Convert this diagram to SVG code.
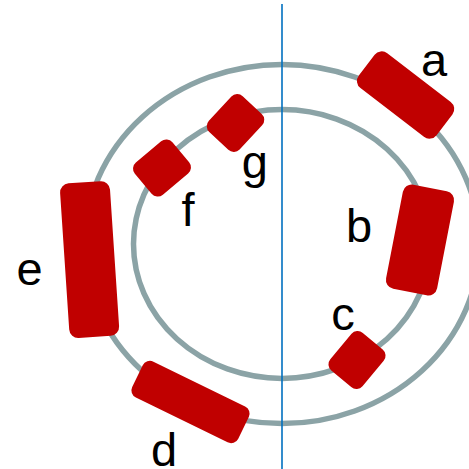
<svg xmlns="http://www.w3.org/2000/svg" width="469" height="469" viewBox="0 0 469 469">
<style>
.ring{fill:none;stroke:#8BA3A6;stroke-width:5.5}
.blk{fill:#C00000}
.lbl{font-family:"Liberation Sans",Arial,sans-serif;font-size:47px;fill:#000;text-anchor:middle}
</style>
<rect width="469" height="469" fill="#fff"/>
<g id="rings">
<ellipse class="ring" cx="282" cy="244" rx="197.5" ry="179.6"/>
<ellipse class="ring" cx="282" cy="244" rx="148.5" ry="134.4"/>
</g>
<g id="connectors">
<line x1="282" y1="4" x2="282" y2="469" stroke="#0070C0" stroke-width="1.6"/>
</g>
<g id="node-a"><rect class="blk" x="-49" y="-22" width="98" height="44" rx="9" transform="translate(405.6 95) rotate(37.5)"/><text class="lbl" x="434" y="76">a</text></g>
<g id="node-b"><rect class="blk" x="-26" y="-53" width="52" height="106" rx="9" transform="translate(420 240) rotate(11)"/><text class="lbl" x="359" y="242">b</text></g>
<g id="node-c"><rect class="blk" x="-21" y="-24.5" width="42" height="49" rx="8" transform="translate(357 360) rotate(40)"/><text class="lbl" x="343" y="330">c</text></g>
<g id="node-d"><rect class="blk" x="-59" y="-20" width="118" height="40" rx="8" transform="translate(190.5 402) rotate(26)"/><text class="lbl" x="164" y="466">d</text></g>
<g id="node-e"><rect class="blk" x="-25" y="-77.5" width="50" height="155" rx="9" transform="translate(89.6 259.6) rotate(-3.8)"/><text class="lbl" x="29.5" y="284.5">e</text></g>
<g id="node-f"><rect class="blk" x="-21" y="-24.5" width="42" height="49" rx="8" transform="translate(162 168) rotate(50)"/><text class="lbl" x="188" y="226">f</text></g>
<g id="node-g"><rect class="blk" x="-21" y="-24.5" width="42" height="49" rx="8" transform="translate(235.5 123) rotate(43)"/><text class="lbl" x="254.7" y="178">g</text></g>
</svg>
